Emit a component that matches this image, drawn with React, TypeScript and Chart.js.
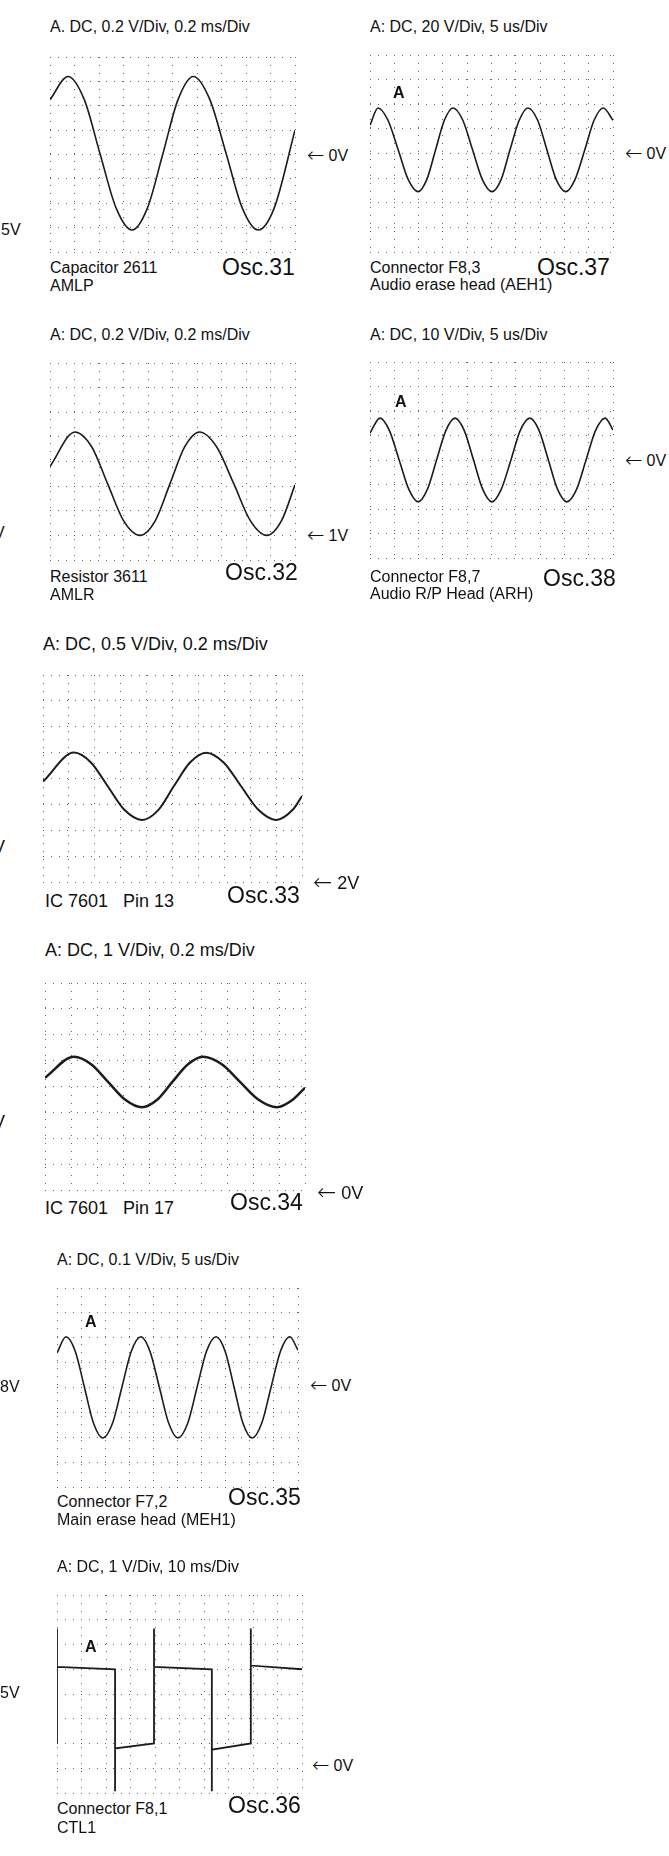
import React, { useEffect, useRef } from 'react';
import { Chart, registerables } from 'chart.js';

Chart.register(...registerables);

const FONT = '"Liberation Sans", Arial, Helvetica, sans-serif';

// ---------- data (time in ms or us, voltage in V) ----------
// Osc.31  0.2 V/Div, 0.2 ms/Div, 0V at centre
const OSC31_T = [0, 0.147, 0.28, 0.41, 0.54, 0.67, 0.795, 0.92, 1.045, 1.17, 1.305, 1.44, 1.57, 1.7, 1.83, 2.0];
const OSC31_V = [0.45, 0.64, 0.45, 0, -0.44, -0.62, -0.44, 0, 0.45, 0.64, 0.45, 0, -0.44, -0.62, -0.44, 0.2];

// Osc.37  20 V/Div, 5 us/Div, 0V at centre
const OSC37_T = [0, 1.65, 3.7, 5.8, 7.85, 9.9, 11.7, 13.5, 15.3, 17.1, 19.1, 21.1, 23.1, 25.1, 27.0, 28.8, 30.7, 32.5, 34.5, 36.4, 38.3, 40.3, 42.2, 44.2, 46.1, 48.0, 50];
const OSC37_V = [23, 37, 27, 3, -21, -31, -21, 3, 27, 37, 27, 3, -21, -31, -21, 3, 27, 37, 27, 3, -21, -31, -21, 3, 27, 37, 27];

// Osc.32  0.2 V/Div, 0.2 ms/Div, 1V one division above bottom
const OSC32_T = [0, 0.204, 0.34, 0.47, 0.6, 0.735, 0.86, 0.98, 1.1, 1.22, 1.36, 1.5, 1.635, 1.77, 1.89, 2.0];
const OSC32_V = [1.56, 1.84, 1.72, 1.42, 1.12, 1.0, 1.12, 1.42, 1.72, 1.84, 1.72, 1.42, 1.12, 1.0, 1.12, 1.41];

// Osc.38  10 V/Div, 5 us/Div, 0V at centre
const OSC38_T = [0, 2.06, 4.0, 6.0, 8.0, 9.9, 11.8, 13.7, 15.6, 17.5, 19.4, 21.3, 23.2, 25.1, 27.0, 29.0, 30.9, 32.9, 34.8, 36.7, 38.6, 40.5, 42.5, 44.45, 46.4, 48.4, 50];
const OSC38_V = [11, 17.1, 12, 0, -12, -17.1, -12, 0, 12, 17.1, 12, 0, -12, -17.1, -12, 0, 12, 17.1, 12, 0, -12, -17.1, -12, 0, 12, 17.1, 12.2];

// Osc.33  0.5 V/Div, 0.2 ms/Div, 2V at bottom
const OSC33_T = [0, 0.239, 0.37, 0.5, 0.63, 0.764, 0.89, 1.01, 1.135, 1.26, 1.395, 1.53, 1.665, 1.8, 1.93, 2.0];
const OSC33_V = [3.94, 4.5, 4.31, 3.85, 3.39, 3.2, 3.39, 3.85, 4.31, 4.5, 4.31, 3.85, 3.39, 3.2, 3.4, 3.66];

// Osc.34  1 V/Div, 0.2 ms/Div, 0V at bottom
const OSC34_T = [0, 0.223, 0.355, 0.485, 0.615, 0.746, 0.865, 0.98, 1.1, 1.215, 1.36, 1.5, 1.64, 1.785, 1.9, 2.0];
const OSC34_V = [4.34, 5.15, 4.86, 4.18, 3.5, 3.2, 3.5, 4.18, 4.86, 5.15, 4.86, 4.18, 3.5, 3.2, 3.47, 3.95];

// Osc.35  0.1 V/Div, 5 us/Div, 0V at centre
const OSC35_T = [0, 1.87, 3.8, 5.7, 7.6, 9.5, 11.5, 13.45, 15.4, 17.4, 19.3, 21.25, 23.2, 25.1, 27.1, 29.05, 31.0, 33.0, 34.9, 36.75, 38.6, 40.5, 42.45, 44.4, 46.35, 48.3, 50];
const OSC35_V = [0.139, 0.204, 0.145, 0, -0.145, -0.203, -0.145, 0, 0.145, 0.204, 0.145, 0, -0.145, -0.203, -0.145, 0, 0.145, 0.204, 0.145, 0, -0.145, -0.203, -0.145, 0, 0.145, 0.204, 0.15];

// Osc.36  1 V/Div, 10 ms/Div, 0V one division above bottom
const OSC36_T = [0, 0, 0, 23.7, 23.7, 23.7, 39.6, 39.6, 39.6, 63.2, 63.2, 63.2, 79.1, 79.1, 79.1, 100];
const OSC36_V = [1.0, 5.65, 4.1, 4.0, -0.93, 0.8, 1.0, 5.65, 4.1, 4.0, -0.93, 0.75, 1.0, 5.65, 4.15, 4.0];

// ---------- panels: axis ranges + placement ----------
type Panel = {
  t: number[]; v: number[];
  xr: [number, number, number]; yr: [number, number, number];
  box: [number, number, number, number];
  lw: number; smooth: boolean;
};

const PANELS: Panel[] = [
  { t: OSC31_T, v: OSC31_V, xr: [0, 2, 0.2], yr: [-0.8, 0.8, 0.2], box: [50, 57, 295, 252], lw: 1.6, smooth: true },
  { t: OSC37_T, v: OSC37_V, xr: [0, 50, 5], yr: [-80, 80, 20], box: [370, 55, 613, 252], lw: 1.6, smooth: true },
  { t: OSC32_T, v: OSC32_V, xr: [0, 2, 0.2], yr: [0.8, 2.4, 0.2], box: [50, 363, 295, 560], lw: 1.6, smooth: true },
  { t: OSC38_T, v: OSC38_V, xr: [0, 50, 5], yr: [-40, 40, 10], box: [370, 362, 613, 558], lw: 1.6, smooth: true },
  { t: OSC33_T, v: OSC33_V, xr: [0, 2, 0.2], yr: [2, 6, 0.5], box: [43, 675, 302, 882], lw: 2.0, smooth: true },
  { t: OSC34_T, v: OSC34_V, xr: [0, 2, 0.2], yr: [0, 8, 1], box: [45, 983, 305, 1190], lw: 2.5, smooth: true },
  { t: OSC35_T, v: OSC35_V, xr: [0, 50, 5], yr: [-0.4, 0.4, 0.1], box: [57, 1288, 298, 1487], lw: 1.6, smooth: true },
  { t: OSC36_T, v: OSC36_V, xr: [0, 100, 10], yr: [-1, 7, 1], box: [57, 1595, 302, 1793], lw: 1.8, smooth: false },
];

type Label = { t: string; x: number; y: number; s?: number; b?: boolean; arrow?: boolean };

const LABELS: Label[] = [
  // Osc.31
  { t: 'A. DC, 0.2 V/Div, 0.2 ms/Div', x: 50, y: 27 },
  { t: 'Capacitor 2611', x: 50, y: 268 },
  { t: 'AMLP', x: 50, y: 286 },
  { t: 'Osc.31', x: 222, y: 267, s: 23 },
  { t: '0V', x: 307, y: 155, arrow: true },
  { t: '5V', x: 1, y: 230 },
  // Osc.37
  { t: 'A: DC, 20 V/Div, 5 us/Div', x: 370, y: 27 },
  { t: 'A', x: 393, y: 93, b: true },
  { t: 'Connector F8,3', x: 370, y: 268 },
  { t: 'Audio erase head (AEH1)', x: 370, y: 285 },
  { t: 'Osc.37', x: 537, y: 267, s: 23 },
  { t: '0V', x: 625, y: 153, arrow: true },
  // Osc.32
  { t: 'A: DC, 0.2 V/Div, 0.2 ms/Div', x: 50, y: 335 },
  { t: 'Resistor 3611', x: 50, y: 577 },
  { t: 'AMLR', x: 50, y: 595 },
  { t: 'Osc.32', x: 225, y: 572, s: 23 },
  { t: '1V', x: 307, y: 535, arrow: true },
  { t: 'V', x: -6, y: 533 },
  // Osc.38
  { t: 'A: DC, 10 V/Div, 5 us/Div', x: 370, y: 335 },
  { t: 'A', x: 395, y: 402, b: true },
  { t: 'Connector F8,7', x: 370, y: 577 },
  { t: 'Audio R/P Head (ARH)', x: 370, y: 594 },
  { t: 'Osc.38', x: 543, y: 578, s: 23 },
  { t: '0V', x: 625, y: 460, arrow: true },
  // Osc.33
  { t: 'A: DC, 0.5 V/Div, 0.2 ms/Div', x: 43, y: 644, s: 18 },
  { t: 'IC 7601   Pin 13', x: 45, y: 901, s: 18 },
  { t: 'Osc.33', x: 227, y: 895, s: 23 },
  { t: '2V', x: 313, y: 882, s: 18, arrow: true },
  { t: 'V', x: -7, y: 847, s: 18 },
  // Osc.34
  { t: 'A: DC, 1 V/Div, 0.2 ms/Div', x: 45, y: 950, s: 18 },
  { t: 'IC 7601   Pin 17', x: 45, y: 1208, s: 18 },
  { t: 'Osc.34', x: 230, y: 1202, s: 23 },
  { t: '0V', x: 317, y: 1192, s: 18, arrow: true },
  { t: 'V', x: -7, y: 1122, s: 18 },
  // Osc.35
  { t: 'A: DC, 0.1 V/Div, 5 us/Div', x: 57, y: 1260 },
  { t: 'A', x: 85, y: 1322, b: true },
  { t: 'Connector F7,2', x: 57, y: 1502 },
  { t: 'Main erase head (MEH1)', x: 57, y: 1520 },
  { t: 'Osc.35', x: 228, y: 1497, s: 23 },
  { t: '0V', x: 310, y: 1385, arrow: true },
  { t: '8V', x: 0, y: 1387 },
  // Osc.36
  { t: 'A: DC, 1 V/Div, 10 ms/Div', x: 57, y: 1567 },
  { t: 'A', x: 85, y: 1647, b: true },
  { t: 'Connector F8,1', x: 57, y: 1809 },
  { t: 'CTL1', x: 57, y: 1828 },
  { t: 'Osc.36', x: 228, y: 1805, s: 23 },
  { t: '0V', x: 312, y: 1765, arrow: true },
  { t: '5V', x: 0, y: 1693 },
];

const PAD = 2;
const GRID_COLOR = '#666666';
const TRACE_COLOR = '#1c1c1c';

function axis(r: [number, number, number]) {
  return {
    type: 'linear' as const,
    min: r[0],
    max: r[1],
    ticks: { display: false, stepSize: r[2] },
    grid: { color: GRID_COLOR, lineWidth: 1, drawTicks: false, borderDash: [1, 7] },
    border: { display: false, dash: [1, 7] },
  };
}

function Scope({ p }: { p: Panel }) {
  const ref = useRef<HTMLCanvasElement | null>(null);
  const w = p.box[2] - p.box[0] + PAD * 2;
  const h = p.box[3] - p.box[1] + PAD * 2;
  useEffect(() => {
    if (!ref.current) return;
    const chart = new Chart(ref.current, {
      type: 'line',
      data: {
        datasets: [
          {
            data: p.t.map((t, i) => ({ x: t, y: p.v[i] })),
            borderColor: TRACE_COLOR,
            borderWidth: p.lw,
            pointRadius: 0,
            pointHoverRadius: 0,
            fill: false,
            tension: 0,
            cubicInterpolationMode: p.smooth ? 'monotone' : 'default',
          } as any,
        ],
      },
      options: {
        animation: false,
        responsive: false,
        devicePixelRatio: 1,
        events: [],
        layout: { padding: PAD, autoPadding: false } as any,
        plugins: { legend: { display: false }, tooltip: { enabled: false }, title: { display: false } },
        scales: { x: axis(p.xr), y: axis(p.yr) } as any,
      },
    });
    return () => chart.destroy();
  }, [p]);
  return (
    <canvas
      ref={ref}
      width={w}
      height={h}
      style={{ position: 'absolute', left: p.box[0] - PAD, top: p.box[1] - PAD, width: w, height: h }}
    />
  );
}

export default function App() {
  return (
    <div
      style={{
        position: 'absolute',
        left: 0,
        top: 0,
        width: 669,
        height: 1856,
        overflow: 'hidden',
        background: '#fff',
        fontFamily: FONT,
        color: '#111',
      }}
    >
      {PANELS.map((p, i) => (
        <Scope key={i} p={p} />
      ))}
      {LABELS.map((l, i) => {
        const s = l.s ?? 16;
        return (
          <div
            key={'l' + i}
            style={{
              position: 'absolute',
              left: l.x,
              top: l.y - s / 2,
              fontSize: s,
              lineHeight: `${s}px`,
              whiteSpace: 'pre',
              fontWeight: l.b ? 700 : 400,
            }}
          >
            {l.arrow ? (
              <span
                style={{
                  fontFamily: '"DejaVu Sans", sans-serif',
                  fontSize: Math.round(s * 1.3),
                  fontWeight: 200,
                  marginRight: Math.round(s * 0.25),
                  verticalAlign: '-1px',
                }}
              >
                ←
              </span>
            ) : null}
            {l.t}
          </div>
        );
      })}
    </div>
  );
}
